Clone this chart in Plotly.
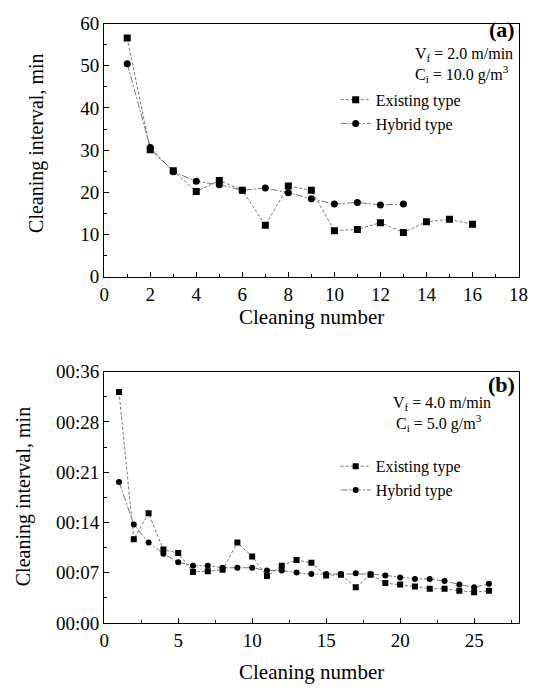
import plotly.graph_objects as go

W, H = 547, 693

# ---- Panel (a) data ----
a_x_existing = list(range(1, 17))
a_existing = [56.6, 30.1, 25.1, 20.2, 22.8, 20.5, 12.2, 21.5, 20.5, 10.9, 11.2, 12.8, 10.5, 13.0, 13.6, 12.4]
a_x_hybrid = list(range(1, 14))
a_hybrid = [50.5, 30.6, 24.9, 22.6, 21.8, 20.5, 21.0, 19.9, 18.5, 17.2, 17.6, 17.0, 17.2]

# ---- Panel (b) data (y in seconds-like units: 36 = "00:36") ----
b_x = list(range(1, 27))
b_existing = [33.1, 12.0, 15.7, 10.5, 10.0, 7.3, 7.4, 7.6, 11.5, 9.5, 6.7, 8.2, 9.0, 8.6, 6.8, 6.9,
              5.1, 6.9, 5.7, 5.5, 5.2, 4.9, 4.9, 4.6, 4.4, 4.6]
b_hybrid = [20.2, 14.1, 11.5, 9.9, 8.7, 8.2, 8.2, 7.9, 7.9, 7.9, 7.5, 7.5, 7.2, 7.0, 7.0, 7.0,
            7.1, 7.0, 6.8, 6.5, 6.3, 6.3, 6.0, 5.5, 5.1, 5.6]
b_tickvals = [0, 7.2, 14.4, 21.6, 28.8, 36]
b_ticktext = ["00:00", "00:07", "00:14", "00:21", "00:28", "00:36"]

FONT = "Liberation Serif"
LINE_C = "#555555"

fig = go.Figure()

def add_pair(xe, ye, xh, yh, xa, ya, legend, msize):
    fig.add_trace(go.Scatter(
        x=xe, y=ye, mode="lines+markers", name="Existing type",
        xaxis=xa, yaxis=ya, legend=legend,
        line=dict(color=LINE_C, width=0.8, dash="3px,2px"),
        marker=dict(symbol="square", size=msize, color="black")))
    fig.add_trace(go.Scatter(
        x=xh, y=yh, mode="lines+markers", name="Hybrid type",
        xaxis=xa, yaxis=ya, legend=legend,
        line=dict(color=LINE_C, width=0.8, dash="7px,2px,2px,2px"),
        marker=dict(symbol="circle", size=msize, color="black")))

add_pair(a_x_existing, a_existing, a_x_hybrid, a_hybrid, "x", "y", "legend", 7)
add_pair(b_x, b_existing, b_x, b_hybrid, "x2", "y2", "legend2", 6)

px = lambda v: v / W
py = lambda v: 1 - v / H

xdom = [px(102), px(528)]
ydom_a = [py(275), py(14)]
ydom_b = [py(632), py(373)]

axis_common = dict(
    showline=True, linecolor="black", linewidth=1.3, mirror=True,
    ticks="inside", ticklen=5, tickwidth=1, tickcolor="black",
    showgrid=False, zeroline=False,
    tickfont=dict(family=FONT, size=19, color="black"),
)

leg_common = dict(xanchor="left", yanchor="top", bgcolor="rgba(0,0,0,0)",
                  font=dict(family=FONT, size=16, color="black"),
                  tracegroupgap=0, itemwidth=30)

fig.update_layout(
    width=W, height=H,
    margin=dict(l=0, r=0, t=0, b=0),
    paper_bgcolor="white", plot_bgcolor="white",
    font=dict(family=FONT, color="black"),
    xaxis=dict(domain=xdom, anchor="y", range=[0, 18], dtick=2, tick0=0,
               minor=dict(dtick=1, ticks="inside", ticklen=3, tickcolor="black"),
               **axis_common),
    yaxis=dict(domain=ydom_a, anchor="x", range=[0, 60], dtick=10, tick0=0,
               minor=dict(dtick=5, ticks="inside", ticklen=3, tickcolor="black"),
               **axis_common),
    xaxis2=dict(domain=xdom, anchor="y2", range=[0, 28], dtick=5, tick0=0,
                minor=dict(dtick=2.5, ticks="inside", ticklen=3, tickcolor="black"),
                **axis_common),
    yaxis2=dict(domain=ydom_b, anchor="x2", range=[0, 36], tickmode="array",
                tickvals=b_tickvals, ticktext=b_ticktext,
                minor=dict(dtick=3.6, tick0=0, ticks="inside", ticklen=3, tickcolor="black"),
                **axis_common),
    legend=dict(x=px(340), y=py(75), **leg_common),
    legend2=dict(x=px(340), y=py(453), **leg_common),
    showlegend=True,
)

ann = []
def text(x, y, s, size=16, angle=0, xanchor="center"):
    ann.append(dict(x=px(x), y=py(y), xref="paper", yref="paper", text=s,
                    showarrow=False, xanchor=xanchor, yanchor="middle", textangle=angle,
                    font=dict(family=FONT, size=size, color="black")))

# panel (a) texts
text(526, 20, "<b>(a)</b>", size=22, xanchor="right")
text(472, 46, "V<sub>f</sub> = 2.0 m/min")
text(470, 66, "C<sub>i</sub> = 10.0 g/m<sup>3</sup>")
text(315, 317, "Cleaning number", size=21)
text(33, 138, "Cleaning interval, min", size=20, angle=-90)

# panel (b) texts
text(526, 386, "<b>(b)</b>", size=22, xanchor="right")
text(449, 406, "V<sub>f</sub> = 4.0 m/min")
text(446, 426, "C<sub>i</sub> = 5.0 g/m<sup>3</sup>")
text(315, 683, "Cleaning number", size=21)
text(19, 502, "Cleaning interval, min", size=20, angle=-90)

fig.update_layout(annotations=ann)

fig.write_html("out.html")
